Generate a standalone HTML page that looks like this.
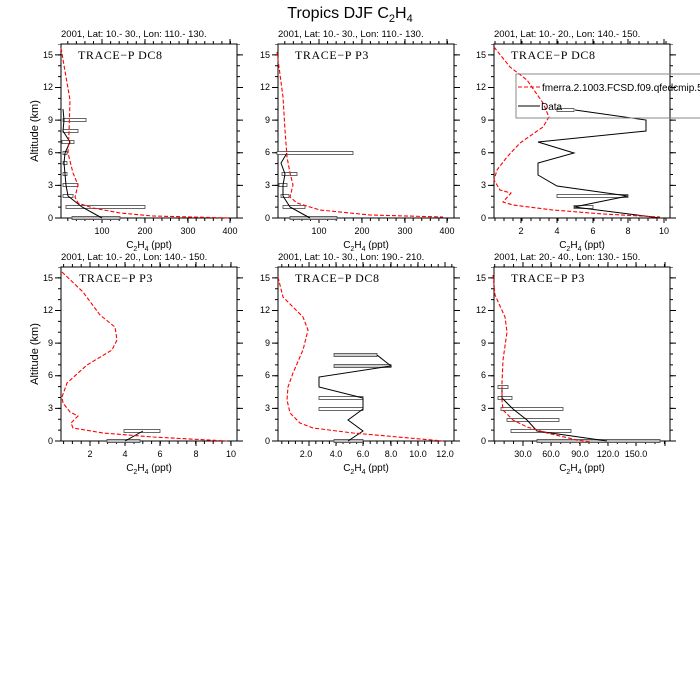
<!DOCTYPE html>
<html><head><meta charset="utf-8"><style>body{margin:0;background:#fff}svg{display:block}</style></head><body>
<svg width="700" height="700" viewBox="0 0 700 700" font-family="Liberation Sans, sans-serif">
<rect width="700" height="700" fill="#fff"/>
<text x="350" y="18" font-size="16" text-anchor="middle">Tropics DJF C<tspan font-size="11" dy="4">2</tspan><tspan dy="-4">H</tspan><tspan font-size="11" dy="4">4</tspan></text>

<g stroke="#000" fill="none" stroke-width="1">
<rect x="61" y="44" width="176" height="174"/>
<rect x="278" y="44" width="176" height="174"/>
<rect x="494" y="44" width="176" height="174"/>
<rect x="61" y="267" width="176" height="174"/>
<rect x="278" y="267" width="176" height="174"/>
<rect x="494" y="267" width="176" height="174"/>
</g>

<g stroke="#000" fill="none">
<g stroke-width="3" stroke-dasharray="1 9.875">
<line x1="59.5" y1="218.5" x2="59.5" y2="44"/><line x1="238.5" y1="218.5" x2="238.5" y2="44"/>
<line x1="276.5" y1="218.5" x2="276.5" y2="44"/><line x1="455.5" y1="218.5" x2="455.5" y2="44"/>
<line x1="492.5" y1="218.5" x2="492.5" y2="44"/><line x1="671.5" y1="218.5" x2="671.5" y2="44"/>
<line x1="59.5" y1="441.5" x2="59.5" y2="267"/><line x1="238.5" y1="441.5" x2="238.5" y2="267"/>
<line x1="276.5" y1="441.5" x2="276.5" y2="267"/><line x1="455.5" y1="441.5" x2="455.5" y2="267"/>
<line x1="492.5" y1="441.5" x2="492.5" y2="267"/><line x1="671.5" y1="441.5" x2="671.5" y2="267"/>
</g>
<g stroke-width="6" stroke-dasharray="1 31.625">
<line x1="58" y1="218.5" x2="58" y2="44"/><line x1="240" y1="218.5" x2="240" y2="44"/>
<line x1="275" y1="218.5" x2="275" y2="44"/><line x1="457" y1="218.5" x2="457" y2="44"/>
<line x1="491" y1="218.5" x2="491" y2="44"/><line x1="673" y1="218.5" x2="673" y2="44"/>
<line x1="58" y1="441.5" x2="58" y2="267"/><line x1="240" y1="441.5" x2="240" y2="267"/>
<line x1="275" y1="441.5" x2="275" y2="267"/><line x1="457" y1="441.5" x2="457" y2="267"/>
<line x1="491" y1="441.5" x2="491" y2="267"/><line x1="673" y1="441.5" x2="673" y2="267"/>
</g>
<g stroke-width="3">
<line x1="67.3" y1="219.5" x2="237" y2="219.5" stroke-dasharray="1 7.56"/><line x1="67.3" y1="42.5" x2="237" y2="42.5" stroke-dasharray="1 7.56"/>
<line x1="284.3" y1="219.5" x2="454" y2="219.5" stroke-dasharray="1 7.56"/><line x1="284.3" y1="42.5" x2="454" y2="42.5" stroke-dasharray="1 7.56"/>
<line x1="494.5" y1="219.5" x2="670" y2="219.5" stroke-dasharray="1 8"/><line x1="494.5" y1="42.5" x2="670" y2="42.5" stroke-dasharray="1 8"/>
<line x1="63.1" y1="442.5" x2="237" y2="442.5" stroke-dasharray="1 7.8"/><line x1="63.1" y1="265.5" x2="237" y2="265.5" stroke-dasharray="1 7.8"/>
<line x1="281.3" y1="442.5" x2="454" y2="442.5" stroke-dasharray="1 5.8"/><line x1="281.3" y1="265.5" x2="454" y2="265.5" stroke-dasharray="1 5.8"/>
<line x1="494.2" y1="442.5" x2="670" y2="442.5" stroke-dasharray="1 8.43"/><line x1="494.2" y1="265.5" x2="670" y2="265.5" stroke-dasharray="1 8.43"/>
</g>
<g stroke-width="1">
<path d="M102,218v5M145,218v5M188,218v5M230,218v5M102,44v-5M145,44v-5M188,44v-5M230,44v-5"/>
<path d="M319,218v5M362,218v5M405,218v5M447,218v5M319,44v-5M362,44v-5M405,44v-5M447,44v-5"/>
<path d="M521,218v5M557,218v5M593,218v5M628,218v5M664,218v5M521,44v-5M557,44v-5M593,44v-5M628,44v-5M664,44v-5"/>
<path d="M90,441v5M125,441v5M160,441v5M196,441v5M231,441v5M90,267v-5M125,267v-5M160,267v-5M196,267v-5M231,267v-5"/>
<path d="M309,441v5M336,441v5M363,441v5M391,441v5M418,441v5M445,441v5M309,267v-5M336,267v-5M363,267v-5M391,267v-5M418,267v-5M445,267v-5"/>
<path d="M523,441v5M551,441v5M580,441v5M608,441v5M636,441v5M665,441v5M523,267v-5M551,267v-5M580,267v-5M608,267v-5M636,267v-5M665,267v-5"/>
</g>
</g>

<g font-size="9" text-anchor="end" fill="#000">
<g><text x="53" y="221">0</text><text x="53" y="188">3</text><text x="53" y="155">6</text><text x="53" y="123">9</text><text x="53" y="90">12</text><text x="53" y="58">15</text></g>
<g transform="translate(217,0)"><text x="53" y="221">0</text><text x="53" y="188">3</text><text x="53" y="155">6</text><text x="53" y="123">9</text><text x="53" y="90">12</text><text x="53" y="58">15</text></g>
<g transform="translate(433,0)"><text x="53" y="221">0</text><text x="53" y="188">3</text><text x="53" y="155">6</text><text x="53" y="123">9</text><text x="53" y="90">12</text><text x="53" y="58">15</text></g>
<g transform="translate(0,223)"><text x="53" y="221">0</text><text x="53" y="188">3</text><text x="53" y="155">6</text><text x="53" y="123">9</text><text x="53" y="90">12</text><text x="53" y="58">15</text></g>
<g transform="translate(217,223)"><text x="53" y="221">0</text><text x="53" y="188">3</text><text x="53" y="155">6</text><text x="53" y="123">9</text><text x="53" y="90">12</text><text x="53" y="58">15</text></g>
<g transform="translate(433,223)"><text x="53" y="221">0</text><text x="53" y="188">3</text><text x="53" y="155">6</text><text x="53" y="123">9</text><text x="53" y="90">12</text><text x="53" y="58">15</text></g>
</g>
<g font-size="11" text-anchor="middle">
<text transform="translate(38,131) rotate(-90)">Altitude (km)</text>
<text transform="translate(38,354) rotate(-90)">Altitude (km)</text>
</g>

<g font-size="9" text-anchor="middle">
<text x="102" y="234">100</text><text x="145" y="234">200</text><text x="188" y="234">300</text><text x="230" y="234">400</text>
<text x="319" y="234">100</text><text x="362" y="234">200</text><text x="405" y="234">300</text><text x="447" y="234">400</text>
<text x="521" y="234">2</text><text x="557" y="234">4</text><text x="593" y="234">6</text><text x="628" y="234">8</text><text x="664" y="234">10</text>
<text x="90" y="457">2</text><text x="125" y="457">4</text><text x="160" y="457">6</text><text x="196" y="457">8</text><text x="231" y="457">10</text>
<text x="306" y="457">2.0</text><text x="336" y="457">4.0</text><text x="363" y="457">6.0</text><text x="391" y="457">8.0</text><text x="418" y="457">10.0</text><text x="445" y="457">12.0</text>
<text x="523" y="457">30.0</text><text x="551" y="457">60.0</text><text x="580" y="457">90.0</text><text x="608" y="457">120.0</text><text x="636" y="457">150.0</text>
</g>
<g font-size="10" text-anchor="middle">
<text x="149" y="248">C<tspan font-size="7" dy="3">2</tspan><tspan dy="-3">H</tspan><tspan font-size="7" dy="3">4</tspan><tspan dy="-3"> (ppt)</tspan></text>
<text x="366" y="248">C<tspan font-size="7" dy="3">2</tspan><tspan dy="-3">H</tspan><tspan font-size="7" dy="3">4</tspan><tspan dy="-3"> (ppt)</tspan></text>
<text x="582" y="248">C<tspan font-size="7" dy="3">2</tspan><tspan dy="-3">H</tspan><tspan font-size="7" dy="3">4</tspan><tspan dy="-3"> (ppt)</tspan></text>
<text x="149" y="471">C<tspan font-size="7" dy="3">2</tspan><tspan dy="-3">H</tspan><tspan font-size="7" dy="3">4</tspan><tspan dy="-3"> (ppt)</tspan></text>
<text x="366" y="471">C<tspan font-size="7" dy="3">2</tspan><tspan dy="-3">H</tspan><tspan font-size="7" dy="3">4</tspan><tspan dy="-3"> (ppt)</tspan></text>
<text x="582" y="471">C<tspan font-size="7" dy="3">2</tspan><tspan dy="-3">H</tspan><tspan font-size="7" dy="3">4</tspan><tspan dy="-3"> (ppt)</tspan></text>
</g>
<g font-size="9.5">
<text x="61" y="37">2001, Lat: 10.- 30., Lon: 110.- 130.</text>
<text x="278" y="37">2001, Lat: 10.- 30., Lon: 110.- 130.</text>
<text x="494" y="37">2001, Lat: 10.- 20., Lon: 140.- 150.</text>
<text x="61" y="260">2001, Lat: 10.- 20., Lon: 140.- 150.</text>
<text x="278" y="260">2001, Lat: 10.- 30., Lon: 190.- 210.</text>
<text x="494" y="260">2001, Lat: 20.- 40., Lon: 130.- 150.</text>
</g>
<g font-family="Liberation Serif, serif" font-size="12" letter-spacing="0.6">
<text x="78" y="59">TRACE−P DC8</text>
<text x="295" y="59">TRACE−P P3</text>
<text x="511" y="59">TRACE−P DC8</text>
<text x="79" y="282">TRACE−P P3</text>
<text x="295" y="282">TRACE−P DC8</text>
<text x="511" y="282">TRACE−P P3</text>
</g>

<g stroke="#444" stroke-width="0.8" fill="#fff">
<rect x="63" y="118.5" width="23" height="3"/><rect x="63" y="129.5" width="15" height="3"/><rect x="62" y="140.5" width="12" height="3"/>
<rect x="63" y="151.5" width="4" height="3"/><rect x="63" y="161.5" width="4" height="3"/><rect x="63" y="172.5" width="4" height="3"/>
<rect x="63" y="183.5" width="15" height="3"/><rect x="63" y="194.5" width="10" height="3"/><rect x="66" y="205.5" width="79" height="3"/>
<rect x="72" y="216.5" width="48" height="3" fill="#bbb"/>
<rect x="277" y="151.5" width="76" height="3"/><rect x="282" y="172.5" width="15" height="3"/><rect x="279" y="183.5" width="8" height="3"/>
<rect x="281" y="194.5" width="8" height="3"/><rect x="283" y="205.5" width="22" height="3"/><rect x="290" y="216.5" width="47" height="3" fill="#bbb"/>
<rect x="557" y="108.5" width="17" height="3"/><rect x="557" y="194.5" width="71" height="3"/><rect x="574" y="205.5" width="19" height="3"/>
<rect x="124" y="429.5" width="36" height="3"/><rect x="107" y="439.5" width="33" height="3" fill="#bbb"/>
<rect x="334" y="353.5" width="43" height="3" fill="#ccc"/><rect x="334" y="364.5" width="57" height="3" fill="#ccc"/>
<rect x="319" y="396.5" width="44" height="3"/><rect x="319" y="407.5" width="44" height="3"/><rect x="334" y="439.5" width="29" height="3" fill="#bbb"/>
<rect x="498" y="385.5" width="10" height="3"/><rect x="498" y="396.5" width="14" height="3"/><rect x="501" y="407.5" width="62" height="3"/>
<rect x="507" y="418.5" width="52" height="3"/><rect x="511" y="429.5" width="60" height="3"/><rect x="537" y="439.5" width="123" height="3" fill="#bbb"/>
</g>

<g stroke="#000" stroke-width="1" fill="none">
<polyline points="63,109 64,120 63,131 70,142 65,153 64,163 65,174 66,185 68,196 82,207 102,218"/>
<polyline points="287,153 281,163 285,174 283,185 283,196 290,207 310,218"/>
<polyline points="575,110 646,120 646,131 538,142 574,153 538,163 538,175 557,186 628,196 574,207 660,218"/>
<polyline points="125,441 143,431"/>
<polyline points="377,355 391,366 319,377 319,387 363,398 363,409 348,420 363,431 348,441"/>
<polyline points="502,387 502,398 513,409 527,420 537,431 607,441"/>
</g>
<g stroke="#f00" stroke-width="1.1" fill="none" stroke-dasharray="4 2">
<polyline points="61,48 70,100 69,133 68,153 73,173 78,185 75,197 78,203 93,208 120,213 153,216 230,218"/>
<polyline points="277,52 283,97 285,130 287,157 290,173 293,185 290,197 297,203 320,210 370,215 443,217"/>
<polyline points="494,47 510,67 527,80 543,103 549,117 543,127 520,143 507,157 497,170 494,180 500,190 511,193 503,202 513,205 553,210 603,214 660,217"/>
<polyline points="62,272 83,292 100,315 115,327 117,340 112,350 87,365 67,383 62,397 63,403 70,412 78,416 71,423 73,428 103,433 153,437 227,441"/>
<polyline points="278,277 283,297 303,317 308,330 303,350 293,373 288,387 287,400 290,413 300,423 313,428 353,433 443,441"/>
<polyline points="493,275 495,295 505,317 507,332 503,360 502,383 502,400 503,410 513,420 527,427 547,433 577,440 590,442"/>
</g>

<rect x="516" y="74" width="190" height="44" fill="none" stroke="#888" stroke-width="1"/>
<line x1="518" y1="87" x2="540" y2="87" stroke="#f00" stroke-dasharray="4 2" stroke-width="1.1"/>
<text x="542" y="91" font-size="10">fmerra.2.1003.FCSD.f09.qfedcmip.56L</text>
<line x1="518" y1="106" x2="540" y2="106" stroke="#000" stroke-width="1"/>
<text x="541" y="110" font-size="10">Data</text>
</svg>
</body></html>
